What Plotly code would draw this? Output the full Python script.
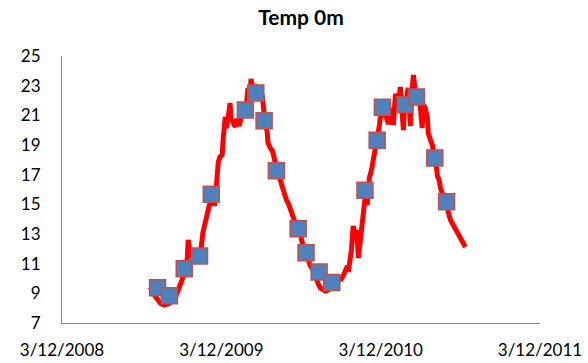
import pandas as pd
import plotly.graph_objects as go

start_date = "2008-03-12"
x_tick_dates = ["2008-03-12", "2009-03-12", "2010-03-12", "2011-03-12"]
x_tick_labels = ["3/12/2008", "3/12/2009", "3/12/2010", "3/12/2011"]
y_ticks = [7, 9, 11, 13, 15, 17, 19, 21, 23, 25]

# continuous record: days since start_date and temperature
line_day = [202, 213, 225, 234, 243, 252, 261, 268, 275, 282, 287, 289, 291, 294, 300, 307, 314,
            319, 323, 328, 332, 337, 342, 346, 349, 353, 355, 358, 362, 367, 369, 371, 374, 376,
            378, 383, 385, 387, 392, 397, 401, 406, 410, 415, 422, 426, 431, 433, 438, 445, 452,
            459, 461, 465, 470, 472, 477, 482, 486, 491, 495, 500, 504, 509, 514, 518, 523, 527,
            532, 537, 541, 546, 550, 555, 559, 564, 569, 573, 578, 582, 587, 592, 596, 603, 610,
            617, 624, 631, 635, 640, 644, 649, 654, 656, 660, 663, 665, 667, 670, 672, 674, 676,
            679, 681, 683, 685, 688, 690, 695, 699, 702, 704, 709, 713, 718, 722, 727, 729, 734,
            738, 741, 745, 748, 752, 757, 759, 761, 764, 768, 773, 775, 777, 780, 782, 784, 789,
            793, 796, 798, 800, 803, 805, 809, 814, 819, 821, 823, 825, 828, 832, 837, 839, 844,
            849, 853, 858, 860, 864, 867, 871, 876, 881, 883, 887, 890, 894, 899, 903, 908, 913,
            917, 922, 924]
line_temp = [9.43, 8.82, 8.35, 8.21, 8.28, 8.42, 8.82, 9.29, 9.90, 10.44, 11.38, 12.60, 12.12,
             11.72, 11.38, 11.59, 11.52, 12.12, 13.14, 13.81, 14.35, 14.89, 15.50, 15.43, 14.89,
             15.97, 16.98, 17.86, 18.19, 18.33, 19.34, 20.35, 20.89, 20.15, 20.35, 21.36, 21.83,
             20.82, 20.55, 20.22, 20.76, 20.28, 20.82, 21.23, 21.57, 22.85, 22.31, 23.45, 22.58,
             22.91, 22.71, 22.31, 21.50, 20.55, 19.88, 19.14, 18.80, 18.60, 18.13, 17.45, 16.98,
             16.64, 16.17, 15.83, 15.29, 15.09, 14.75, 14.28, 13.95, 13.54, 13.27, 13.00, 12.46,
             12.06, 11.59, 11.18, 10.84, 10.71, 10.30, 9.90, 9.63, 9.36, 9.29, 9.16, 9.23, 9.36,
             9.49, 9.70, 10.03, 9.97, 10.17, 10.57, 10.84, 10.44, 11.11, 11.92, 12.73, 13.54,
             13.14, 12.60, 13.27, 12.93, 11.38, 11.92, 12.60, 13.14, 14.08, 14.96, 15.63, 14.96,
             15.97, 16.78, 17.32, 18.13, 18.80, 19.47, 20.28, 20.82, 21.23, 21.70, 21.03, 20.69,
             20.42, 21.03, 21.50, 20.35, 21.36, 22.44, 22.17, 22.37, 22.91, 22.04, 20.82, 20.01,
             21.23, 22.24, 22.85, 21.36, 20.28, 22.04, 23.25, 23.72, 22.71, 22.37, 22.04, 21.50,
             20.82, 20.15, 21.70, 21.50, 20.82, 19.81, 19.34, 18.94, 17.99, 17.45, 16.91, 16.64,
             16.10, 15.70, 15.29, 15.02, 14.62, 14.22, 13.95, 13.74, 13.47, 13.14, 12.87, 12.60,
             12.46, 12.26, 12.12]

# sampled points (squares)
sample_day = [219, 246, 280, 315, 342, 420, 444, 463, 491, 541, 559, 589, 618, 694, 722, 734,
              786, 812, 854, 881]
sample_temp = [9.38, 8.84, 10.66, 11.52, 15.68, 21.36, 22.51, 20.64, 17.27, 13.36, 11.74, 10.44,
               9.73, 15.95, 19.32, 21.54, 21.72, 22.24, 18.13, 15.18]

base = pd.Timestamp(start_date)
line_x = [base + pd.Timedelta(days=d) for d in line_day]
sample_x = [base + pd.Timedelta(days=d) for d in sample_day]

fig = go.Figure()
fig.add_trace(go.Scatter(x=line_x, y=line_temp, mode="lines",
                         line=dict(color="#FF0000", width=5), showlegend=False))
fig.add_trace(go.Scatter(x=sample_x, y=sample_temp, mode="markers",
                         marker=dict(symbol="square", size=16, color="#4F81BD",
                                     line=dict(color="#C0504D", width=1.5)),
                         showlegend=False))

font_family = "Lato, Calibri, sans-serif"
fig.update_layout(
    width=588, height=363,
    margin=dict(l=62, r=48, t=56, b=40, autoexpand=False),
    paper_bgcolor="white", plot_bgcolor="white",
    title=dict(text="<b>Temp 0m</b>", x=301 / 588, xanchor="center",
               y=1 - 18 / 363, yanchor="middle",
               font=dict(family=font_family, size=21, color="black")),
    font=dict(family=font_family, size=17, color="black"),
)
fig.update_xaxes(type="date", range=[x_tick_dates[0], x_tick_dates[-1]],
                 tickvals=x_tick_dates, ticktext=x_tick_labels, automargin=False,
                 showline=True, linecolor="#868686", linewidth=1,
                 showgrid=False, zeroline=False, ticks="", ticklabelstandoff=12)
fig.update_yaxes(range=[7, 25], tickvals=y_ticks, automargin=False,
                 showline=True, linecolor="#868686", linewidth=1,
                 showgrid=False, zeroline=False, ticks="", ticklabelstandoff=17)

fig.write_html("out.html")
